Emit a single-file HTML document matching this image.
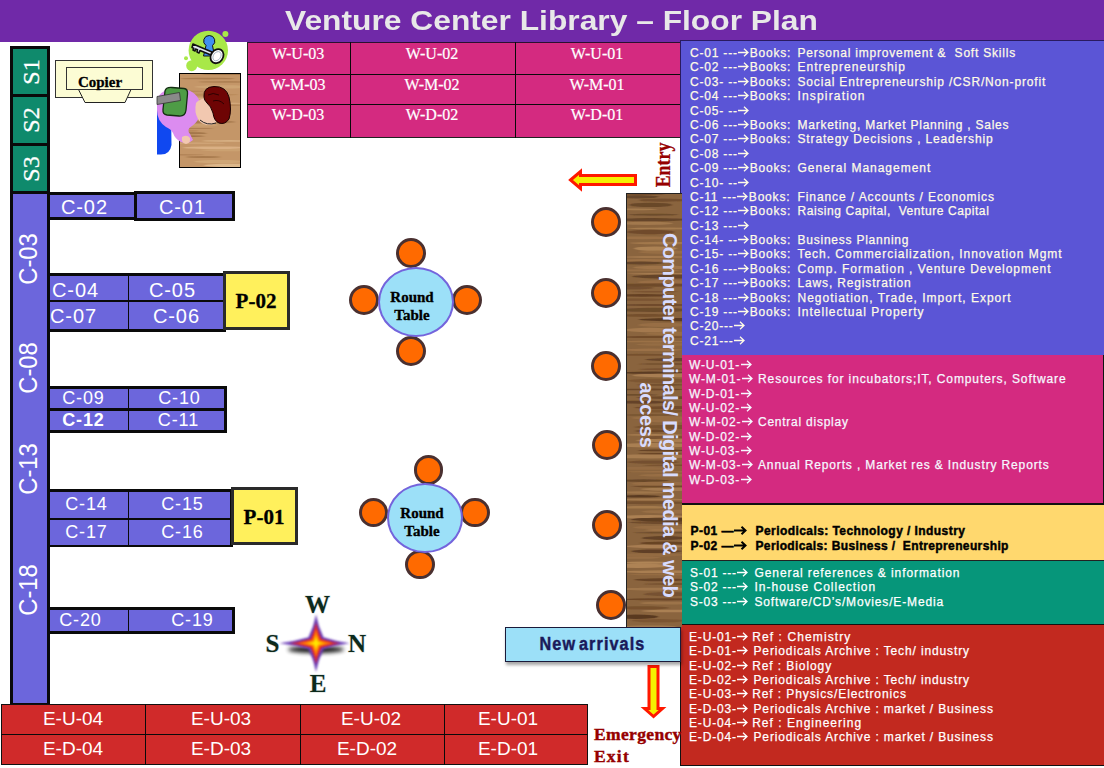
<!DOCTYPE html>
<html><head><meta charset="utf-8"><style>
html,body{margin:0;padding:0;width:1104px;height:768px;overflow:hidden;background:#fff;position:relative;font-family:"Liberation Sans",sans-serif}
.a{position:absolute;box-sizing:border-box}
.t{position:absolute;white-space:pre;line-height:1}
.blk{background:#0a0a0a}
.cb{background:#6c66dc}
.sg{background:#0f8a6c}
.ctxt{color:#fff;font-size:20px}
.wt{color:#fff;font-family:"Liberation Serif",serif;font-size:16px}
.et{color:#fff;font-size:19px}
.stool{position:absolute;box-sizing:border-box;width:30px;height:30px;border-radius:50%;background:#ff6a00;border:3px solid #4a3030}
.wood{background:repeating-linear-gradient(180deg,#8a6a40 0px,#6f5030 2px,#9a7a4c 4px,#5e4228 6px,#8c6c42 8px)}
.lg{position:absolute;left:690px;white-space:pre;font-size:12px;line-height:14.4px;-webkit-text-stroke:0.25px currentColor}
.ar{vertical-align:0;margin-left:0.5px;margin-right:0.5px}
</style></head><body>
<div class="a" style="left:0px;top:0px;width:1104px;height:42px;background:#7029a8"></div>
<div class="t" style="left:284.8px;top:8.4px;font-size:27px;font-weight:bold;color:#e8e8e8;transform-origin:0 0;transform:scaleX(1.176)">Venture Center Library – Floor Plan</div>
<div class="a" style="left:10px;top:46px;width:40px;height:148px;background:#0a0a0a"></div>
<div class="a" style="left:13px;top:49px;width:34px;height:45px;background:#0f8a6c"></div>
<div class="a" style="left:13px;top:97px;width:34px;height:46px;background:#0f8a6c"></div>
<div class="a" style="left:13px;top:146px;width:34px;height:45px;background:#0f8a6c"></div>
<div class="a" style="left:10px;top:191px;width:40px;height:515px;background:#0a0a0a"></div>
<div class="a" style="left:13px;top:194px;width:34px;height:509px;background:#6c66dc"></div>
<div class="a" style="left:47px;top:192px;width:90px;height:28px;background:#0a0a0a"></div>
<div class="a" style="left:50px;top:195px;width:84px;height:22px;background:#6c66dc"></div>
<div class="a" style="left:134px;top:191px;width:101px;height:30px;background:#0a0a0a"></div>
<div class="a" style="left:137px;top:194px;width:95px;height:24px;background:#6c66dc"></div>
<div class="a" style="left:47px;top:273px;width:179px;height:59px;background:#0a0a0a"></div>
<div class="a" style="left:50px;top:276px;width:173px;height:24px;background:#6c66dc"></div>
<div class="a" style="left:50px;top:302px;width:173px;height:27px;background:#6c66dc"></div>
<div class="a" style="left:128px;top:276px;width:1px;height:53px;background:#0a0a0a"></div>
<div class="a" style="left:47px;top:386px;width:180px;height:47px;background:#0a0a0a"></div>
<div class="a" style="left:50px;top:389px;width:174px;height:19px;background:#6c66dc"></div>
<div class="a" style="left:50px;top:411px;width:174px;height:19px;background:#6c66dc"></div>
<div class="a" style="left:128px;top:389px;width:1px;height:41px;background:#0a0a0a"></div>
<div class="a" style="left:47px;top:489px;width:186px;height:58px;background:#0a0a0a"></div>
<div class="a" style="left:50px;top:492px;width:180px;height:26px;background:#6c66dc"></div>
<div class="a" style="left:50px;top:520px;width:180px;height:25px;background:#6c66dc"></div>
<div class="a" style="left:128px;top:492px;width:1px;height:53px;background:#0a0a0a"></div>
<div class="a" style="left:47px;top:607px;width:188px;height:27px;background:#0a0a0a"></div>
<div class="a" style="left:50px;top:610px;width:182px;height:21px;background:#6c66dc"></div>
<div class="a" style="left:128px;top:610px;width:1px;height:21px;background:#0a0a0a"></div>
<div class="a" style="left:223px;top:271px;width:67px;height:59px;background:#fff05c;border:3px solid #2a2a2a"></div>
<div class="a" style="left:231px;top:487px;width:67px;height:58px;background:#fff05c;border:3px solid #2a2a2a"></div>
<div class="a" style="left:247px;top:42px;width:434px;height:96px;background:#d42a80;border-left:1px solid #222;border-bottom:1px solid #222;border-top:1px solid #2a1030"></div>
<div class="a" style="left:247px;top:74px;width:434px;height:1px;background:#0a0a0a"></div>
<div class="a" style="left:247px;top:104px;width:434px;height:1px;background:#0a0a0a"></div>
<div class="a" style="left:350px;top:42px;width:1px;height:96px;background:#0a0a0a"></div>
<div class="a" style="left:515px;top:42px;width:1px;height:96px;background:#0a0a0a"></div>
<div class="a" style="left:1px;top:704px;width:587px;height:61px;background:#d02a2a;border:1px solid #111"></div>
<div class="a" style="left:1px;top:734px;width:587px;height:1px;background:#0a0a0a"></div>
<div class="a" style="left:145px;top:704px;width:1px;height:61px;background:#0a0a0a"></div>
<div class="a" style="left:300px;top:704px;width:1px;height:61px;background:#0a0a0a"></div>
<div class="a" style="left:444px;top:704px;width:1px;height:61px;background:#0a0a0a"></div>
<div class="a" style="left:680px;top:40px;width:424px;height:316px;background:#5b55d6;border-top:1px solid #2a1a60;border-left:1px solid #2a1a60;border-bottom:1px solid #2a1a60"></div>
<div class="a" style="left:682px;top:355px;width:422px;height:150px;background:#d42a80;border-bottom:2px solid #111;border-right:1px solid #111"></div>
<div class="a" style="left:680px;top:505px;width:424px;height:56px;background:#ffd86e;border-bottom:1px solid #222"></div>
<div class="a" style="left:680px;top:561px;width:424px;height:64px;background:#06967a;border-bottom:1px solid #111"></div>
<div class="a" style="left:680px;top:625px;width:424px;height:141px;background:#c2291f;border-bottom:1px solid #111;border-left:1px solid #111"></div>
<svg class="a" style="left:626px;top:193px" width="56" height="434" viewBox="626 193 56 434"><defs><filter id="wb" x="-10%" y="-50%" width="120%" height="200%"><feGaussianBlur stdDeviation="1.2 0.7"/></filter><clipPath id="wc"><rect x="627" y="194" width="55" height="433"/></clipPath></defs><rect x="626" y="193" width="56" height="434" fill="#222"/><rect x="627" y="194" width="55" height="433" fill="#8a643e"/><g clip-path="url(#wc)"><g filter="url(#wb)"><ellipse cx="643.0" cy="194.0" rx="21.2" ry="1.2" fill="#6c4626" opacity="0.78"/><ellipse cx="636.7" cy="196.8" rx="22.1" ry="1.6" fill="#4e301a" opacity="0.62"/><ellipse cx="662.2" cy="200.2" rx="23.1" ry="1.6" fill="#5e3a1e" opacity="0.54"/><ellipse cx="650.7" cy="204.9" rx="21.2" ry="2.2" fill="#4e301a" opacity="0.54"/><ellipse cx="634.7" cy="209.3" rx="22.9" ry="0.9" fill="#b88c5c" opacity="0.57"/><ellipse cx="653.5" cy="214.7" rx="24.7" ry="1.0" fill="#4e301a" opacity="0.49"/><ellipse cx="651.2" cy="219.7" rx="37.0" ry="1.6" fill="#4e301a" opacity="0.62"/><ellipse cx="646.7" cy="223.3" rx="26.2" ry="1.6" fill="#b88c5c" opacity="0.52"/><ellipse cx="668.9" cy="228.5" rx="41.9" ry="0.9" fill="#b08454" opacity="0.74"/><ellipse cx="650.6" cy="232.0" rx="24.1" ry="2.2" fill="#5e3a1e" opacity="0.59"/><ellipse cx="643.1" cy="237.8" rx="34.0" ry="1.4" fill="#a07448" opacity="0.77"/><ellipse cx="664.3" cy="243.1" rx="34.5" ry="1.3" fill="#b08454" opacity="0.63"/><ellipse cx="655.5" cy="248.6" rx="21.6" ry="2.2" fill="#b88c5c" opacity="0.74"/><ellipse cx="666.0" cy="252.2" rx="27.1" ry="1.6" fill="#a07448" opacity="0.60"/><ellipse cx="655.5" cy="257.0" rx="35.3" ry="0.8" fill="#b88c5c" opacity="0.65"/><ellipse cx="645.7" cy="260.3" rx="29.8" ry="1.2" fill="#a07448" opacity="0.80"/><ellipse cx="640.5" cy="263.0" rx="23.4" ry="1.4" fill="#4e301a" opacity="0.62"/><ellipse cx="662.8" cy="267.5" rx="29.5" ry="1.8" fill="#b08454" opacity="0.54"/><ellipse cx="647.5" cy="270.3" rx="32.1" ry="1.0" fill="#a07448" opacity="0.69"/><ellipse cx="662.6" cy="273.7" rx="35.2" ry="0.8" fill="#b88c5c" opacity="0.58"/><ellipse cx="670.7" cy="276.6" rx="38.5" ry="2.0" fill="#4e301a" opacity="0.63"/><ellipse cx="667.7" cy="282.2" rx="29.8" ry="2.2" fill="#a07448" opacity="0.61"/><ellipse cx="658.2" cy="285.0" rx="44.6" ry="1.7" fill="#5e3a1e" opacity="0.63"/><ellipse cx="629.8" cy="287.9" rx="23.8" ry="1.7" fill="#5e3a1e" opacity="0.49"/><ellipse cx="654.3" cy="291.7" rx="23.7" ry="0.8" fill="#6c4626" opacity="0.55"/><ellipse cx="642.8" cy="295.4" rx="32.2" ry="1.3" fill="#5e3a1e" opacity="0.84"/><ellipse cx="638.7" cy="299.6" rx="28.6" ry="1.2" fill="#6c4626" opacity="0.56"/><ellipse cx="658.0" cy="305.0" rx="43.8" ry="1.0" fill="#5e3a1e" opacity="0.59"/><ellipse cx="654.0" cy="309.9" rx="36.1" ry="2.1" fill="#4e301a" opacity="0.49"/><ellipse cx="645.8" cy="315.4" rx="25.6" ry="1.5" fill="#6c4626" opacity="0.67"/><ellipse cx="683.1" cy="319.6" rx="44.6" ry="1.7" fill="#4e301a" opacity="0.79"/><ellipse cx="663.1" cy="324.9" rx="25.0" ry="2.0" fill="#a07448" opacity="0.65"/><ellipse cx="649.7" cy="330.0" rx="24.8" ry="2.2" fill="#b08454" opacity="0.69"/><ellipse cx="689.4" cy="333.7" rx="43.9" ry="2.0" fill="#a07448" opacity="0.60"/><ellipse cx="651.6" cy="337.0" rx="32.1" ry="1.1" fill="#6c4626" opacity="0.84"/><ellipse cx="655.8" cy="341.6" rx="36.1" ry="0.8" fill="#a07448" opacity="0.78"/><ellipse cx="668.0" cy="344.5" rx="32.0" ry="1.3" fill="#a07448" opacity="0.52"/><ellipse cx="651.9" cy="349.8" rx="30.0" ry="1.2" fill="#a07448" opacity="0.83"/><ellipse cx="641.9" cy="354.8" rx="34.8" ry="1.0" fill="#6c4626" opacity="0.64"/><ellipse cx="681.6" cy="359.6" rx="36.4" ry="1.7" fill="#4e301a" opacity="0.59"/><ellipse cx="676.1" cy="364.0" rx="38.2" ry="0.9" fill="#5e3a1e" opacity="0.49"/><ellipse cx="664.3" cy="369.2" rx="25.3" ry="1.0" fill="#6c4626" opacity="0.55"/><ellipse cx="652.6" cy="372.7" rx="33.6" ry="1.1" fill="#4e301a" opacity="0.78"/><ellipse cx="672.9" cy="375.4" rx="40.4" ry="1.9" fill="#b88c5c" opacity="0.66"/><ellipse cx="660.4" cy="380.8" rx="33.1" ry="2.1" fill="#6c4626" opacity="0.46"/><ellipse cx="660.8" cy="384.8" rx="23.7" ry="1.0" fill="#5e3a1e" opacity="0.51"/><ellipse cx="652.0" cy="389.5" rx="33.0" ry="0.9" fill="#5e3a1e" opacity="0.67"/><ellipse cx="633.1" cy="394.8" rx="24.8" ry="0.9" fill="#4e301a" opacity="0.47"/><ellipse cx="679.2" cy="397.6" rx="42.8" ry="1.4" fill="#5e3a1e" opacity="0.63"/><ellipse cx="640.9" cy="402.2" rx="26.9" ry="1.5" fill="#4e301a" opacity="0.65"/><ellipse cx="675.9" cy="407.6" rx="41.9" ry="1.5" fill="#6c4626" opacity="0.83"/><ellipse cx="663.0" cy="411.0" rx="23.4" ry="1.6" fill="#6c4626" opacity="0.50"/><ellipse cx="648.5" cy="415.0" rx="25.3" ry="0.9" fill="#6c4626" opacity="0.57"/><ellipse cx="660.9" cy="417.9" rx="29.2" ry="1.9" fill="#a07448" opacity="0.55"/><ellipse cx="674.1" cy="420.9" rx="30.0" ry="1.5" fill="#a07448" opacity="0.64"/><ellipse cx="679.1" cy="426.9" rx="44.9" ry="2.0" fill="#6c4626" opacity="0.61"/><ellipse cx="655.4" cy="430.9" rx="20.5" ry="1.3" fill="#5e3a1e" opacity="0.67"/><ellipse cx="654.1" cy="434.9" rx="27.4" ry="0.8" fill="#b08454" opacity="0.83"/><ellipse cx="667.5" cy="437.8" rx="22.6" ry="2.1" fill="#6c4626" opacity="0.56"/><ellipse cx="676.7" cy="440.4" rx="40.5" ry="1.9" fill="#b08454" opacity="0.79"/><ellipse cx="655.0" cy="445.3" rx="43.0" ry="2.2" fill="#b88c5c" opacity="0.68"/><ellipse cx="662.6" cy="450.3" rx="24.6" ry="0.9" fill="#5e3a1e" opacity="0.81"/><ellipse cx="660.2" cy="453.7" rx="22.1" ry="0.8" fill="#5e3a1e" opacity="0.79"/><ellipse cx="651.3" cy="456.4" rx="44.9" ry="2.0" fill="#b88c5c" opacity="0.62"/><ellipse cx="653.0" cy="462.1" rx="26.0" ry="1.7" fill="#5e3a1e" opacity="0.49"/><ellipse cx="679.0" cy="465.2" rx="35.7" ry="0.8" fill="#6c4626" opacity="0.66"/><ellipse cx="641.8" cy="468.4" rx="28.7" ry="1.4" fill="#a07448" opacity="0.46"/><ellipse cx="670.7" cy="471.8" rx="44.5" ry="0.8" fill="#a07448" opacity="0.66"/><ellipse cx="669.6" cy="475.2" rx="30.8" ry="1.4" fill="#a07448" opacity="0.65"/><ellipse cx="643.7" cy="480.6" rx="25.4" ry="1.3" fill="#4e301a" opacity="0.54"/><ellipse cx="661.6" cy="483.8" rx="30.1" ry="2.1" fill="#a07448" opacity="0.59"/><ellipse cx="673.0" cy="486.5" rx="42.0" ry="0.9" fill="#5e3a1e" opacity="0.62"/><ellipse cx="677.6" cy="489.2" rx="36.8" ry="1.7" fill="#b88c5c" opacity="0.56"/><ellipse cx="640.1" cy="492.5" rx="26.7" ry="1.2" fill="#b88c5c" opacity="0.45"/><ellipse cx="639.8" cy="496.3" rx="20.9" ry="1.2" fill="#4e301a" opacity="0.80"/><ellipse cx="653.1" cy="499.5" rx="31.9" ry="1.0" fill="#b08454" opacity="0.65"/><ellipse cx="650.1" cy="502.7" rx="40.4" ry="1.5" fill="#5e3a1e" opacity="0.51"/><ellipse cx="644.0" cy="507.3" rx="25.8" ry="1.3" fill="#b08454" opacity="0.68"/><ellipse cx="681.3" cy="511.7" rx="39.6" ry="1.9" fill="#a07448" opacity="0.69"/><ellipse cx="650.1" cy="516.8" rx="38.1" ry="1.8" fill="#b88c5c" opacity="0.71"/><ellipse cx="669.4" cy="519.5" rx="38.3" ry="2.0" fill="#4e301a" opacity="0.77"/><ellipse cx="669.1" cy="522.5" rx="40.3" ry="1.5" fill="#4e301a" opacity="0.46"/><ellipse cx="670.6" cy="527.4" rx="37.3" ry="1.9" fill="#a07448" opacity="0.54"/><ellipse cx="673.8" cy="530.0" rx="29.4" ry="0.9" fill="#b08454" opacity="0.63"/><ellipse cx="665.5" cy="532.7" rx="32.2" ry="0.8" fill="#4e301a" opacity="0.45"/><ellipse cx="664.2" cy="538.0" rx="22.3" ry="1.9" fill="#4e301a" opacity="0.66"/><ellipse cx="665.7" cy="543.1" rx="25.9" ry="1.5" fill="#5e3a1e" opacity="0.75"/><ellipse cx="655.3" cy="546.4" rx="29.6" ry="1.7" fill="#b88c5c" opacity="0.64"/><ellipse cx="656.3" cy="551.3" rx="25.0" ry="1.9" fill="#4e301a" opacity="0.69"/><ellipse cx="652.4" cy="554.9" rx="34.2" ry="1.7" fill="#a07448" opacity="0.45"/><ellipse cx="635.4" cy="557.6" rx="25.4" ry="1.2" fill="#a07448" opacity="0.65"/><ellipse cx="647.6" cy="562.6" rx="23.0" ry="1.2" fill="#b88c5c" opacity="0.81"/><ellipse cx="638.2" cy="565.8" rx="31.5" ry="2.2" fill="#b88c5c" opacity="0.78"/><ellipse cx="664.4" cy="571.7" rx="42.9" ry="1.4" fill="#b08454" opacity="0.82"/><ellipse cx="670.8" cy="574.5" rx="43.8" ry="0.9" fill="#a07448" opacity="0.50"/><ellipse cx="659.9" cy="579.8" rx="25.8" ry="1.5" fill="#5e3a1e" opacity="0.81"/><ellipse cx="681.0" cy="584.0" rx="37.0" ry="0.8" fill="#5e3a1e" opacity="0.61"/><ellipse cx="659.6" cy="589.1" rx="41.0" ry="1.4" fill="#b88c5c" opacity="0.45"/><ellipse cx="668.5" cy="594.2" rx="24.9" ry="2.0" fill="#5e3a1e" opacity="0.45"/><ellipse cx="666.7" cy="599.3" rx="45.0" ry="1.1" fill="#5e3a1e" opacity="0.69"/><ellipse cx="667.2" cy="603.1" rx="27.0" ry="1.4" fill="#b08454" opacity="0.47"/><ellipse cx="642.6" cy="607.9" rx="26.6" ry="1.7" fill="#6c4626" opacity="0.65"/><ellipse cx="681.7" cy="611.0" rx="40.3" ry="1.3" fill="#b88c5c" opacity="0.70"/><ellipse cx="636.2" cy="616.7" rx="22.0" ry="2.2" fill="#4e301a" opacity="0.82"/><ellipse cx="658.9" cy="620.7" rx="27.2" ry="1.7" fill="#6c4626" opacity="0.47"/><ellipse cx="649.6" cy="626.4" rx="27.0" ry="0.9" fill="#b88c5c" opacity="0.55"/></g></g></svg>
<div class="t" style="left:30.5px;top:71.5px;transform:translate(-50%,-50%) rotate(-90deg) scaleX(1.0);font-family:'Liberation Serif',serif;font-size:24px;color:#fff;-webkit-text-stroke:0.3px #fff">S1</div>
<div class="t" style="left:30.5px;top:119.5px;transform:translate(-50%,-50%) rotate(-90deg) scaleX(1.0);font-family:'Liberation Serif',serif;font-size:24px;color:#fff;-webkit-text-stroke:0.3px #fff">S2</div>
<div class="t" style="left:30.5px;top:168.5px;transform:translate(-50%,-50%) rotate(-90deg) scaleX(1.0);font-family:'Liberation Serif',serif;font-size:24px;color:#fff;-webkit-text-stroke:0.3px #fff">S3</div>
<div class="t" style="left:28px;top:259px;transform:translate(-50%,-50%) rotate(-90deg) scaleX(0.95);font-size:25px;color:#fff">C-03</div>
<div class="t" style="left:28px;top:368px;transform:translate(-50%,-50%) rotate(-90deg) scaleX(0.95);font-size:25px;color:#fff">C-08</div>
<div class="t" style="left:28px;top:469px;transform:translate(-50%,-50%) rotate(-90deg) scaleX(0.95);font-size:25px;color:#fff">C-13</div>
<div class="t" style="left:28px;top:590px;transform:translate(-50%,-50%) rotate(-90deg) scaleX(0.95);font-size:25px;color:#fff">C-18</div>
<div class="t" style="left:84px;top:197px;transform:translateX(-50%);color:#fff;font-size:20px;letter-spacing:0.9px;padding-left:0.9px">C-02</div>
<div class="t" style="left:182px;top:197px;transform:translateX(-50%);color:#fff;font-size:20px;letter-spacing:0.9px;padding-left:0.9px">C-01</div>
<div class="t" style="left:52px;top:280px;color:#fff;font-size:20px;letter-spacing:0.9px">C-04</div>
<div class="t" style="left:172px;top:280px;transform:translateX(-50%);color:#fff;font-size:20px;letter-spacing:0.9px;padding-left:0.9px">C-05</div>
<div class="t" style="left:50px;top:306px;color:#fff;font-size:20px;letter-spacing:0.9px">C-07</div>
<div class="t" style="left:176px;top:306px;transform:translateX(-50%);color:#fff;font-size:20px;letter-spacing:0.9px;padding-left:0.9px">C-06</div>
<div class="t" style="left:83px;top:389px;transform:translateX(-50%);color:#fff;font-size:18px;letter-spacing:0.9px;padding-left:0.9px">C-09</div>
<div class="t" style="left:179px;top:389px;transform:translateX(-50%);color:#fff;font-size:18px;letter-spacing:0.9px;padding-left:0.9px">C-10</div>
<div class="t" style="left:83px;top:411px;transform:translateX(-50%);color:#fff;font-size:18px;font-weight:bold;letter-spacing:0.9px;padding-left:0.9px">C-12</div>
<div class="t" style="left:178px;top:411px;transform:translateX(-50%);color:#fff;font-size:18px;letter-spacing:0.9px;padding-left:0.9px">C-11</div>
<div class="t" style="left:86px;top:495px;transform:translateX(-50%);color:#fff;font-size:18px;letter-spacing:0.9px;padding-left:0.9px">C-14</div>
<div class="t" style="left:182px;top:495px;transform:translateX(-50%);color:#fff;font-size:18px;letter-spacing:0.9px;padding-left:0.9px">C-15</div>
<div class="t" style="left:86px;top:523px;transform:translateX(-50%);color:#fff;font-size:18px;letter-spacing:0.9px;padding-left:0.9px">C-17</div>
<div class="t" style="left:182px;top:523px;transform:translateX(-50%);color:#fff;font-size:18px;letter-spacing:0.9px;padding-left:0.9px">C-16</div>
<div class="t" style="left:80px;top:611px;transform:translateX(-50%);color:#fff;font-size:18px;letter-spacing:0.9px;padding-left:0.9px">C-20</div>
<div class="t" style="left:192px;top:611px;transform:translateX(-50%);color:#fff;font-size:18px;letter-spacing:0.9px;padding-left:0.9px">C-19</div>
<div class="t" style="left:256px;top:291px;transform:translateX(-50%);font-family:'Liberation Serif',serif;font-weight:bold;font-size:21px;color:#000;-webkit-text-stroke:0.3px #000">P-02</div>
<div class="t" style="left:264px;top:507px;transform:translateX(-50%);font-family:'Liberation Serif',serif;font-weight:bold;font-size:21px;color:#000;-webkit-text-stroke:0.3px #000">P-01</div>
<div class="t" style="left:298px;top:46px;transform:translateX(-50%);font-family:'Liberation Serif',serif;color:#fff;font-size:16px;-webkit-text-stroke:0.2px #fff">W-U-03</div>
<div class="t" style="left:298px;top:77px;transform:translateX(-50%);font-family:'Liberation Serif',serif;color:#fff;font-size:16px;-webkit-text-stroke:0.2px #fff">W-M-03</div>
<div class="t" style="left:298px;top:107px;transform:translateX(-50%);font-family:'Liberation Serif',serif;color:#fff;font-size:16px;-webkit-text-stroke:0.2px #fff">W-D-03</div>
<div class="t" style="left:432px;top:46px;transform:translateX(-50%);font-family:'Liberation Serif',serif;color:#fff;font-size:16px;-webkit-text-stroke:0.2px #fff">W-U-02</div>
<div class="t" style="left:432px;top:77px;transform:translateX(-50%);font-family:'Liberation Serif',serif;color:#fff;font-size:16px;-webkit-text-stroke:0.2px #fff">W-M-02</div>
<div class="t" style="left:432px;top:107px;transform:translateX(-50%);font-family:'Liberation Serif',serif;color:#fff;font-size:16px;-webkit-text-stroke:0.2px #fff">W-D-02</div>
<div class="t" style="left:597px;top:46px;transform:translateX(-50%);font-family:'Liberation Serif',serif;color:#fff;font-size:16px;-webkit-text-stroke:0.2px #fff">W-U-01</div>
<div class="t" style="left:597px;top:77px;transform:translateX(-50%);font-family:'Liberation Serif',serif;color:#fff;font-size:16px;-webkit-text-stroke:0.2px #fff">W-M-01</div>
<div class="t" style="left:597px;top:107px;transform:translateX(-50%);font-family:'Liberation Serif',serif;color:#fff;font-size:16px;-webkit-text-stroke:0.2px #fff">W-D-01</div>
<div class="t" style="left:73px;top:709px;transform:translateX(-50%);color:#fff;font-size:19px">E-U-04</div>
<div class="t" style="left:73px;top:739.3px;transform:translateX(-50%);color:#fff;font-size:19px">E-D-04</div>
<div class="t" style="left:221px;top:709px;transform:translateX(-50%);color:#fff;font-size:19px">E-U-03</div>
<div class="t" style="left:221px;top:739.3px;transform:translateX(-50%);color:#fff;font-size:19px">E-D-03</div>
<div class="t" style="left:371px;top:709px;transform:translateX(-50%);color:#fff;font-size:19px">E-U-02</div>
<div class="t" style="left:367px;top:739.3px;transform:translateX(-50%);color:#fff;font-size:19px">E-D-02</div>
<div class="t" style="left:508px;top:709px;transform:translateX(-50%);color:#fff;font-size:19px">E-U-01</div>
<div class="t" style="left:508px;top:739.3px;transform:translateX(-50%);color:#fff;font-size:19px">E-D-01</div>
<div class="a" style="left:395.5px;top:238px;width:30px;height:30px;border-radius:50%;background:#ff6a00;border:3px solid #4a3030"></div>
<div class="a" style="left:348.75px;top:285px;width:30px;height:30px;border-radius:50%;background:#ff6a00;border:3px solid #4a3030"></div>
<div class="a" style="left:451.75px;top:285px;width:30px;height:30px;border-radius:50%;background:#ff6a00;border:3px solid #4a3030"></div>
<div class="a" style="left:395.5px;top:336px;width:30px;height:30px;border-radius:50%;background:#ff6a00;border:3px solid #4a3030"></div>
<div class="a" style="left:377.5px;top:266.8px;width:76px;height:70.3px;background:#9ce0f8;border:2.8px solid #7464dc;border-radius:50%"></div>
<div class="a" style="left:414.15px;top:455.4px;width:29.2px;height:29.2px;border-radius:50%;background:#ff6a00;border:3px solid #4a3030"></div>
<div class="a" style="left:359.15px;top:498.15px;width:29.2px;height:29.2px;border-radius:50%;background:#ff6a00;border:3px solid #4a3030"></div>
<div class="a" style="left:460.4px;top:498.15px;width:29.2px;height:29.2px;border-radius:50%;background:#ff6a00;border:3px solid #4a3030"></div>
<div class="a" style="left:405.4px;top:549.9px;width:29.2px;height:29.2px;border-radius:50%;background:#ff6a00;border:3px solid #4a3030"></div>
<div class="a" style="left:386.8px;top:482.8px;width:75.8px;height:70.3px;background:#9ce0f8;border:2.8px solid #7464dc;border-radius:50%"></div>
<div class="t" style="left:412px;top:290px;transform:translateX(-50%);font-family:'Liberation Serif',serif;font-weight:bold;font-size:15px;color:#000;-webkit-text-stroke:0.35px #000">Round</div>
<div class="t" style="left:412px;top:308px;transform:translateX(-50%);font-family:'Liberation Serif',serif;font-weight:bold;font-size:15px;color:#000;-webkit-text-stroke:0.35px #000">Table</div>
<div class="t" style="left:422px;top:506px;transform:translateX(-50%);font-family:'Liberation Serif',serif;font-weight:bold;font-size:15px;color:#000;-webkit-text-stroke:0.35px #000">Round</div>
<div class="t" style="left:422px;top:524px;transform:translateX(-50%);font-family:'Liberation Serif',serif;font-weight:bold;font-size:15px;color:#000;-webkit-text-stroke:0.35px #000">Table</div>
<div class="a" style="left:591.4px;top:206.5px;width:30px;height:30px;border-radius:50%;background:#ff6a00;border:3px solid #4a3030"></div>
<div class="a" style="left:591.4px;top:278.2px;width:30px;height:30px;border-radius:50%;background:#ff6a00;border:3px solid #4a3030"></div>
<div class="a" style="left:591.4px;top:350.7px;width:30px;height:30px;border-radius:50%;background:#ff6a00;border:3px solid #4a3030"></div>
<div class="a" style="left:591.6px;top:430px;width:30px;height:30px;border-radius:50%;background:#ff6a00;border:3px solid #4a3030"></div>
<div class="a" style="left:591.6px;top:509.9px;width:30px;height:30px;border-radius:50%;background:#ff6a00;border:3px solid #4a3030"></div>
<div class="a" style="left:595.6px;top:590.2px;width:30px;height:30px;border-radius:50%;background:#ff6a00;border:3px solid #4a3030"></div>
<div class="t" style="left:669.5px;top:415px;transform:translate(-50%,-50%) rotate(90deg);font-size:20px;font-weight:bold;color:#d8dcff;letter-spacing:-0.64px">Computer terminals/ Digital media &amp; web</div>
<div class="t" style="left:647px;top:415px;transform:translate(-50%,-50%) rotate(90deg);font-size:20px;font-weight:bold;color:#d8dcff;letter-spacing:-0.3px">access</div>
<svg class="a" style="left:566px;top:167px" width="74" height="26" viewBox="566 167 74 26"><path d="M570.5 180 L580.5 171.5 L580.5 175.5 L635.5 175.5 L635.5 184.5 L580.5 184.5 L580.5 188.5 Z" fill="#f5f000" stroke="#ff1800" stroke-width="3" stroke-linejoin="miter"/></svg>
<div class="t" style="left:663px;top:165px;transform:translate(-50%,-50%) rotate(-90deg) scaleX(0.85);font-family:'Liberation Serif',serif;font-weight:bold;font-size:21px;color:#960000;-webkit-text-stroke:0.3px #960000">Entry</div>
<svg class="a" style="left:638px;top:662px" width="32" height="60" viewBox="638 662 32 60"><path d="M653.5 716.5 L644.5 708.5 L649 708.5 L649 666.5 L658 666.5 L658 708.5 L662.5 708.5 Z" fill="#f5f000" stroke="#ff1800" stroke-width="3" stroke-linejoin="miter"/></svg>
<div class="t" style="left:594px;top:726.3px;font-family:'Liberation Serif',serif;font-weight:bold;font-size:17.5px;color:#960000;letter-spacing:0.35px;-webkit-text-stroke:0.4px #960000">Emergency</div>
<div class="t" style="left:594px;top:748px;font-family:'Liberation Serif',serif;font-weight:bold;font-size:17.5px;color:#960000;letter-spacing:1.2px;-webkit-text-stroke:0.4px #960000">Exit</div>
<div class="a" style="left:505px;top:627px;width:176px;height:35px;background:#9ce0f8;border:1px solid #1a1a3a;box-shadow:1px 3px 3px rgba(0,0,0,0.35)"></div>
<div class="t" style="left:592px;top:635px;transform:translateX(-50%) scaleX(0.9);font-weight:bold;font-size:18px;color:#1a1a5a;letter-spacing:1.2px;word-spacing:-3px;padding-left:1px;-webkit-text-stroke:0.45px #1a1a5a">New arrivals</div>
<div class="a" style="left:55px;top:60px;width:98px;height:38px;background:#fcfcd4;border:1px solid #333"></div>
<div class="a" style="left:66px;top:67px;width:77px;height:23px;background:#fcfcd4;border:1px solid #333"></div>
<svg class="a" style="left:76px;top:88px" width="58" height="16" viewBox="76 88 58 16"><path d="M78.5 89.5 L85 102.5 L125 102.5 L131 89.5" fill="#fcfcd4" stroke="#222" stroke-width="1"/></svg>
<div class="a" style="left:66px;top:89px;width:77px;height:1px;background:#333"></div>
<div class="t" style="left:100px;top:75px;transform:translateX(-50%);font-family:'Liberation Serif',serif;font-weight:bold;font-size:15px;color:#000;-webkit-text-stroke:0.3px #000">Copier</div>
<svg class="a" style="left:150px;top:25px" width="95" height="148" viewBox="150 25 95 148">
<defs><filter id="db" x="-10%" y="-50%" width="120%" height="200%"><feGaussianBlur stdDeviation="1.0 0.6"/></filter><clipPath id="dc"><rect x="180" y="74" width="60" height="93"/></clipPath></defs>
<rect x="179.5" y="73.5" width="61" height="94" fill="#c49668" stroke="#000" stroke-width="1"/>
<g clip-path="url(#dc)"><g filter="url(#db)"><ellipse cx="231.8" cy="74.0" rx="30.6" ry="1.1" fill="#9a6c40" opacity="0.68"/><ellipse cx="207.4" cy="78.6" rx="27.3" ry="0.8" fill="#9a6c40" opacity="0.57"/><ellipse cx="227.4" cy="81.9" rx="28.9" ry="0.8" fill="#9a6c40" opacity="0.52"/><ellipse cx="222.6" cy="86.9" rx="28.0" ry="1.7" fill="#d0a878" opacity="0.75"/><ellipse cx="184.3" cy="91.3" rx="19.8" ry="0.7" fill="#a87a4c" opacity="0.51"/><ellipse cx="210.4" cy="94.7" rx="27.8" ry="1.1" fill="#b58656" opacity="0.70"/><ellipse cx="202.4" cy="98.7" rx="26.0" ry="1.1" fill="#dcb488" opacity="0.87"/><ellipse cx="197.8" cy="101.0" rx="15.6" ry="0.9" fill="#b58656" opacity="0.73"/><ellipse cx="209.4" cy="103.3" rx="34.2" ry="0.7" fill="#dcb488" opacity="0.84"/><ellipse cx="214.5" cy="105.3" rx="34.6" ry="0.8" fill="#a87a4c" opacity="0.66"/><ellipse cx="185.6" cy="107.5" rx="16.7" ry="1.3" fill="#d0a878" opacity="0.63"/><ellipse cx="190.5" cy="112.4" rx="29.1" ry="1.5" fill="#a87a4c" opacity="0.50"/><ellipse cx="208.7" cy="115.8" rx="23.9" ry="1.2" fill="#d0a878" opacity="0.58"/><ellipse cx="198.0" cy="120.0" rx="22.9" ry="0.8" fill="#d0a878" opacity="0.90"/><ellipse cx="203.4" cy="122.0" rx="32.7" ry="1.6" fill="#9a6c40" opacity="0.58"/><ellipse cx="201.6" cy="125.2" rx="15.8" ry="1.6" fill="#d0a878" opacity="0.56"/><ellipse cx="193.0" cy="128.5" rx="20.9" ry="0.6" fill="#9a6c40" opacity="0.53"/><ellipse cx="177.2" cy="130.8" rx="22.4" ry="1.3" fill="#b58656" opacity="0.75"/><ellipse cx="184.2" cy="133.2" rx="22.7" ry="1.3" fill="#9a6c40" opacity="0.75"/><ellipse cx="186.5" cy="136.1" rx="18.8" ry="0.9" fill="#9a6c40" opacity="0.80"/><ellipse cx="229.6" cy="140.9" rx="27.1" ry="0.8" fill="#e0bc90" opacity="0.67"/><ellipse cx="196.2" cy="143.2" rx="29.1" ry="0.6" fill="#dcb488" opacity="0.60"/><ellipse cx="216.2" cy="147.7" rx="33.6" ry="1.3" fill="#dcb488" opacity="0.89"/><ellipse cx="228.2" cy="150.1" rx="27.3" ry="1.2" fill="#d0a878" opacity="0.61"/><ellipse cx="181.0" cy="154.8" rx="23.2" ry="0.8" fill="#a87a4c" opacity="0.60"/><ellipse cx="203.1" cy="157.0" rx="17.6" ry="0.9" fill="#9a6c40" opacity="0.64"/><ellipse cx="219.7" cy="161.6" rx="25.4" ry="1.7" fill="#d0a878" opacity="0.88"/><ellipse cx="233.1" cy="165.4" rx="29.0" ry="1.7" fill="#e0bc90" opacity="0.89"/></g></g>
<path d="M157 110 L171 110 L171.5 145 Q170 155 160 154.5 L157 154.5 Z" fill="#1048f0"/>
<path d="M157 104 Q157 89 176 88.5 Q196 88 200 103 Q203 118 192 126 Q186 129 190 134 L193 140 Q188 145 181 142 Q175 139 173 133 Q171 129 166 127 Q157 121 157 110 Z" fill="#dc8cf0"/>
<path d="M196 103 Q201 97 209 99 L219 113 Q219 124 210 125 Q201 125 198 119 Q194 112 196 103 Z" fill="#f2c8b0"/>
<path d="M200 120 Q207 126 216 123" stroke="#222" stroke-width="1" fill="none"/>
<path d="M182 137 Q187 134 190 138 Q191 143 186 144 Q181 143 182 137 Z" fill="#f2c8b0"/>
<path d="M204 97 Q203 87 214 86.5 Q226 86 229 97 Q232 110 229 119 Q225 125 219 123 Q214 121 213 113 Q211 106 207 103 Q204 100 204 97 Z" fill="#6e0404" stroke="#1a0000" stroke-width="1"/>
<path d="M208 95 Q213 92 219 95 M213 101 Q219 99 224 104" stroke="#1a0000" stroke-width="0.8" fill="none"/>
<path d="M165 91 Q166 87 172 87.5 L184 88.5 Q188 89 187.5 94 L186 110 Q185.5 116.5 179 116 L167 115 Q162.5 114.5 163 109.5 Z" fill="#4e9c46" stroke="#142e12" stroke-width="1.3"/>
<path d="M157 96.5 L179.5 92.5 L180.5 100.5 L157 104.5 Z" fill="#8a8a8a" stroke="#333" stroke-width="0.8"/>
<circle cx="208.3" cy="50.4" r="19.7" fill="#a8e848"/>
<circle cx="191.7" cy="65.7" r="5.5" fill="#a8e848"/>
<circle cx="225.4" cy="34" r="3" fill="#a8e848"/>
<circle cx="186" cy="58.3" r="2" fill="#a8e848"/>
<path d="M209.3 35.5 A5.5 5.5 0 0 1 212.5 45.5 L214.5 56 L203.5 56 L206 45.5 A5.5 5.5 0 0 1 209.3 35.5 Z" fill="#4090f0" stroke="#111" stroke-width="1"/>
<path d="M193 44 L212 52 L211 55 L200 50.5 L199 53 L197 52 L197.5 49.8 L195.5 49 L195 51 L193 50 L193.8 48.2 L192 47.5 Z" fill="#dfe8f4" stroke="#111" stroke-width="1.6" stroke-linejoin="round"/>
<ellipse cx="217" cy="56.2" rx="6" ry="7.5" transform="rotate(35 217 56.2)" fill="#fff" stroke="#111" stroke-width="1.8"/>
<ellipse cx="217" cy="56.2" rx="3.6" ry="5" transform="rotate(35 217 56.2)" fill="none" stroke="#9ab" stroke-width="0.8"/>
</svg>
<svg class="a" style="left:255px;top:585px" width="120" height="115" viewBox="255 585 120 115">
<defs><filter id="bl" x="-20%" y="-20%" width="140%" height="140%"><feGaussianBlur stdDeviation="0.9"/></filter>
<filter id="bl2" x="-30%" y="-100%" width="160%" height="300%"><feGaussianBlur stdDeviation="2.2"/></filter></defs>
<ellipse cx="316" cy="649.5" rx="28" ry="3.6" fill="#000" opacity="0.9" filter="url(#bl2)"/>
<path d="M316.00 614.50 Q318.06 625.85 323.50 637.20 Q336.50 641.55 349.50 643.20 Q336.50 644.85 323.50 649.20 Q318.06 660.60 316.00 672.00 Q313.94 660.60 308.50 649.20 Q293.95 644.85 279.40 643.20 Q293.95 641.55 308.50 637.20 Q313.94 625.85 316.00 614.50 Z" fill="#6c40b8" filter="url(#bl)"/>
<path d="M316.00 622.54 Q317.49 630.71 321.40 638.88 Q330.76 642.01 340.12 643.20 Q330.76 644.39 321.40 647.52 Q317.49 655.73 316.00 663.94 Q314.52 655.73 310.60 647.52 Q300.12 644.39 289.65 643.20 Q300.12 642.01 310.60 638.88 Q314.52 630.71 316.00 622.54 Z" fill="#e02030" filter="url(#bl)"/>
<path d="M316.00 628.85 Q317.03 634.53 319.75 640.20 Q326.25 642.38 332.75 643.20 Q326.25 644.03 319.75 646.20 Q317.03 651.90 316.00 657.60 Q314.97 651.90 312.25 646.20 Q304.98 644.03 297.70 643.20 Q304.98 642.38 312.25 640.20 Q314.97 634.53 316.00 628.85 Z" fill="#ff8800" filter="url(#bl)"/>
<path d="M316.00 635.74 Q316.54 638.69 317.95 641.64 Q321.33 642.77 324.71 643.20 Q321.33 643.63 317.95 644.76 Q316.54 647.72 316.00 650.69 Q315.46 647.72 314.05 644.76 Q310.27 643.63 306.48 643.20 Q310.27 642.77 314.05 641.64 Q315.46 638.69 316.00 635.74 Z" fill="#ffe800" filter="url(#bl)"/>
<g font-family="Liberation Serif" font-weight="bold" fill="#0c2a1c" font-size="25" style="paint-order:stroke" stroke="#d8dcd8" stroke-width="1.2">
<text x="317.5" y="612.6" text-anchor="middle">W</text>
<text x="272.5" y="651.8" text-anchor="middle">S</text>
<text x="357" y="651.8" text-anchor="middle">N</text>
<text x="318" y="691.6" text-anchor="middle">E</text>
</g></svg>
<div class="lg" style="left:690px;top:47.0px;color:#fffbe6;letter-spacing:0.8px;line-height:12px;">C-01 ---<svg class="ar" width="11" height="9" viewBox="0 0 11 9"><path d="M0 4.5H10M6 0.8L10 4.5L6 8.2" fill="none" stroke="currentColor" stroke-width="1.3"/></svg>Books:</div>
<div class="lg" id="b0" style="left:797.5px;top:47.0px;color:#fffbe6;letter-spacing:0.793px;line-height:12px;">Personal improvement &amp;  Soft Skills</div>
<div class="lg" style="left:690px;top:61.39px;color:#fffbe6;letter-spacing:0.8px;line-height:12px;">C-02 ---<svg class="ar" width="11" height="9" viewBox="0 0 11 9"><path d="M0 4.5H10M6 0.8L10 4.5L6 8.2" fill="none" stroke="currentColor" stroke-width="1.3"/></svg>Books:</div>
<div class="lg" id="b1" style="left:797.5px;top:61.39px;color:#fffbe6;letter-spacing:1.029px;line-height:12px;">Entrepreneurship</div>
<div class="lg" style="left:690px;top:75.78px;color:#fffbe6;letter-spacing:0.8px;line-height:12px;">C-03- --<svg class="ar" width="11" height="9" viewBox="0 0 11 9"><path d="M0 4.5H10M6 0.8L10 4.5L6 8.2" fill="none" stroke="currentColor" stroke-width="1.3"/></svg>Books:</div>
<div class="lg" id="b2" style="left:797.5px;top:75.78px;color:#fffbe6;letter-spacing:0.834px;line-height:12px;">Social Entrepreneurship /CSR/Non-profit</div>
<div class="lg" style="left:690px;top:90.17px;color:#fffbe6;letter-spacing:0.8px;line-height:12px;">C-04 ---<svg class="ar" width="11" height="9" viewBox="0 0 11 9"><path d="M0 4.5H10M6 0.8L10 4.5L6 8.2" fill="none" stroke="currentColor" stroke-width="1.3"/></svg>Books:</div>
<div class="lg" id="b3" style="left:797.5px;top:90.17px;color:#fffbe6;letter-spacing:1.162px;line-height:12px;">Inspiration</div>
<div class="lg" style="left:690px;top:104.56px;color:#fffbe6;letter-spacing:0.8px;line-height:12px;">C-05- --<svg class="ar" width="11" height="9" viewBox="0 0 11 9"><path d="M0 4.5H10M6 0.8L10 4.5L6 8.2" fill="none" stroke="currentColor" stroke-width="1.3"/></svg></div>
<div class="lg" style="left:690px;top:118.95px;color:#fffbe6;letter-spacing:0.8px;line-height:12px;">C-06 ---<svg class="ar" width="11" height="9" viewBox="0 0 11 9"><path d="M0 4.5H10M6 0.8L10 4.5L6 8.2" fill="none" stroke="currentColor" stroke-width="1.3"/></svg>Books:</div>
<div class="lg" id="b5" style="left:797.5px;top:118.95px;color:#fffbe6;letter-spacing:0.755px;line-height:12px;">Marketing, Market Planning , Sales</div>
<div class="lg" style="left:690px;top:133.34px;color:#fffbe6;letter-spacing:0.8px;line-height:12px;">C-07 ---<svg class="ar" width="11" height="9" viewBox="0 0 11 9"><path d="M0 4.5H10M6 0.8L10 4.5L6 8.2" fill="none" stroke="currentColor" stroke-width="1.3"/></svg>Books:</div>
<div class="lg" id="b6" style="left:797.5px;top:133.34px;color:#fffbe6;letter-spacing:0.856px;line-height:12px;">Strategy Decisions , Leadership</div>
<div class="lg" style="left:690px;top:147.73px;color:#fffbe6;letter-spacing:0.8px;line-height:12px;">C-08 ---<svg class="ar" width="11" height="9" viewBox="0 0 11 9"><path d="M0 4.5H10M6 0.8L10 4.5L6 8.2" fill="none" stroke="currentColor" stroke-width="1.3"/></svg></div>
<div class="lg" style="left:690px;top:162.12px;color:#fffbe6;letter-spacing:0.8px;line-height:12px;">C-09 ---<svg class="ar" width="11" height="9" viewBox="0 0 11 9"><path d="M0 4.5H10M6 0.8L10 4.5L6 8.2" fill="none" stroke="currentColor" stroke-width="1.3"/></svg>Books:</div>
<div class="lg" id="b8" style="left:797.5px;top:162.12px;color:#fffbe6;letter-spacing:0.984px;line-height:12px;">General Management</div>
<div class="lg" style="left:690px;top:176.51px;color:#fffbe6;letter-spacing:0.8px;line-height:12px;">C-10- --<svg class="ar" width="11" height="9" viewBox="0 0 11 9"><path d="M0 4.5H10M6 0.8L10 4.5L6 8.2" fill="none" stroke="currentColor" stroke-width="1.3"/></svg></div>
<div class="lg" style="left:690px;top:190.9px;color:#fffbe6;letter-spacing:0.8px;line-height:12px;">C-11 ---<svg class="ar" width="11" height="9" viewBox="0 0 11 9"><path d="M0 4.5H10M6 0.8L10 4.5L6 8.2" fill="none" stroke="currentColor" stroke-width="1.3"/></svg>Books:</div>
<div class="lg" id="b10" style="left:797.5px;top:190.9px;color:#fffbe6;letter-spacing:0.911px;line-height:12px;">Finance / Accounts / Economics</div>
<div class="lg" style="left:690px;top:205.29px;color:#fffbe6;letter-spacing:0.8px;line-height:12px;">C-12 ---<svg class="ar" width="11" height="9" viewBox="0 0 11 9"><path d="M0 4.5H10M6 0.8L10 4.5L6 8.2" fill="none" stroke="currentColor" stroke-width="1.3"/></svg>Books:</div>
<div class="lg" id="b11" style="left:797.5px;top:205.29px;color:#fffbe6;letter-spacing:0.579px;line-height:12px;">Raising Capital,  Venture Capital</div>
<div class="lg" style="left:690px;top:219.68px;color:#fffbe6;letter-spacing:0.8px;line-height:12px;">C-13 ---<svg class="ar" width="11" height="9" viewBox="0 0 11 9"><path d="M0 4.5H10M6 0.8L10 4.5L6 8.2" fill="none" stroke="currentColor" stroke-width="1.3"/></svg></div>
<div class="lg" style="left:690px;top:234.07px;color:#fffbe6;letter-spacing:0.8px;line-height:12px;">C-14- --<svg class="ar" width="11" height="9" viewBox="0 0 11 9"><path d="M0 4.5H10M6 0.8L10 4.5L6 8.2" fill="none" stroke="currentColor" stroke-width="1.3"/></svg>Books:</div>
<div class="lg" id="b13" style="left:797.5px;top:234.07px;color:#fffbe6;letter-spacing:0.766px;line-height:12px;">Business Planning</div>
<div class="lg" style="left:690px;top:248.46px;color:#fffbe6;letter-spacing:0.8px;line-height:12px;">C-15- --<svg class="ar" width="11" height="9" viewBox="0 0 11 9"><path d="M0 4.5H10M6 0.8L10 4.5L6 8.2" fill="none" stroke="currentColor" stroke-width="1.3"/></svg>Books:</div>
<div class="lg" id="b14" style="left:797.5px;top:248.46px;color:#fffbe6;letter-spacing:0.975px;line-height:12px;">Tech. Commercialization, Innovation Mgmt</div>
<div class="lg" style="left:690px;top:262.85px;color:#fffbe6;letter-spacing:0.8px;line-height:12px;">C-16 ---<svg class="ar" width="11" height="9" viewBox="0 0 11 9"><path d="M0 4.5H10M6 0.8L10 4.5L6 8.2" fill="none" stroke="currentColor" stroke-width="1.3"/></svg>Books:</div>
<div class="lg" id="b15" style="left:797.5px;top:262.85px;color:#fffbe6;letter-spacing:0.972px;line-height:12px;">Comp. Formation , Venture Development</div>
<div class="lg" style="left:690px;top:277.24px;color:#fffbe6;letter-spacing:0.8px;line-height:12px;">C-17 ---<svg class="ar" width="11" height="9" viewBox="0 0 11 9"><path d="M0 4.5H10M6 0.8L10 4.5L6 8.2" fill="none" stroke="currentColor" stroke-width="1.3"/></svg>Books:</div>
<div class="lg" id="b16" style="left:797.5px;top:277.24px;color:#fffbe6;letter-spacing:0.846px;line-height:12px;">Laws, Registration</div>
<div class="lg" style="left:690px;top:291.63px;color:#fffbe6;letter-spacing:0.8px;line-height:12px;">C-18 ---<svg class="ar" width="11" height="9" viewBox="0 0 11 9"><path d="M0 4.5H10M6 0.8L10 4.5L6 8.2" fill="none" stroke="currentColor" stroke-width="1.3"/></svg>Books:</div>
<div class="lg" id="b17" style="left:797.5px;top:291.63px;color:#fffbe6;letter-spacing:1.0px;line-height:12px;">Negotiation, Trade, Import, Export</div>
<div class="lg" style="left:690px;top:306.02px;color:#fffbe6;letter-spacing:0.8px;line-height:12px;">C-19 ---<svg class="ar" width="11" height="9" viewBox="0 0 11 9"><path d="M0 4.5H10M6 0.8L10 4.5L6 8.2" fill="none" stroke="currentColor" stroke-width="1.3"/></svg>Books:</div>
<div class="lg" id="b18" style="left:797.5px;top:306.02px;color:#fffbe6;letter-spacing:1.002px;line-height:12px;">Intellectual Property</div>
<div class="lg" style="left:690px;top:320.41px;color:#fffbe6;letter-spacing:0.8px;line-height:12px;">C-20---<svg class="ar" width="11" height="9" viewBox="0 0 11 9"><path d="M0 4.5H10M6 0.8L10 4.5L6 8.2" fill="none" stroke="currentColor" stroke-width="1.3"/></svg></div>
<div class="lg" style="left:690px;top:334.8px;color:#fffbe6;letter-spacing:0.8px;line-height:12px;">C-21---<svg class="ar" width="11" height="9" viewBox="0 0 11 9"><path d="M0 4.5H10M6 0.8L10 4.5L6 8.2" fill="none" stroke="currentColor" stroke-width="1.3"/></svg></div>
<div class="lg" style="left:689px;top:358.8px;color:#f6f8ff;letter-spacing:0.85px;line-height:12px;">W-U-01-<svg class="ar" width="11" height="9" viewBox="0 0 11 9"><path d="M0 4.5H10M6 0.8L10 4.5L6 8.2" fill="none" stroke="currentColor" stroke-width="1.3"/></svg></div>
<div class="lg" style="left:689px;top:373.15px;color:#f6f8ff;letter-spacing:0.85px;line-height:12px;">W-M-01-<svg class="ar" width="11" height="9" viewBox="0 0 11 9"><path d="M0 4.5H10M6 0.8L10 4.5L6 8.2" fill="none" stroke="currentColor" stroke-width="1.3"/></svg></div>
<div class="lg" id="w1" style="left:758px;top:373.15px;color:#f6f8ff;letter-spacing:0.897px;line-height:12px;">Resources for incubators;IT, Computers, Software</div>
<div class="lg" style="left:689px;top:387.5px;color:#f6f8ff;letter-spacing:0.85px;line-height:12px;">W-D-01-<svg class="ar" width="11" height="9" viewBox="0 0 11 9"><path d="M0 4.5H10M6 0.8L10 4.5L6 8.2" fill="none" stroke="currentColor" stroke-width="1.3"/></svg></div>
<div class="lg" style="left:689px;top:401.85px;color:#f6f8ff;letter-spacing:0.85px;line-height:12px;">W-U-02-<svg class="ar" width="11" height="9" viewBox="0 0 11 9"><path d="M0 4.5H10M6 0.8L10 4.5L6 8.2" fill="none" stroke="currentColor" stroke-width="1.3"/></svg></div>
<div class="lg" style="left:689px;top:416.2px;color:#f6f8ff;letter-spacing:0.85px;line-height:12px;">W-M-02-<svg class="ar" width="11" height="9" viewBox="0 0 11 9"><path d="M0 4.5H10M6 0.8L10 4.5L6 8.2" fill="none" stroke="currentColor" stroke-width="1.3"/></svg></div>
<div class="lg" id="w4" style="left:758px;top:416.2px;color:#f6f8ff;letter-spacing:0.752px;line-height:12px;">Central display</div>
<div class="lg" style="left:689px;top:430.55px;color:#f6f8ff;letter-spacing:0.85px;line-height:12px;">W-D-02-<svg class="ar" width="11" height="9" viewBox="0 0 11 9"><path d="M0 4.5H10M6 0.8L10 4.5L6 8.2" fill="none" stroke="currentColor" stroke-width="1.3"/></svg></div>
<div class="lg" style="left:689px;top:444.9px;color:#f6f8ff;letter-spacing:0.85px;line-height:12px;">W-U-03-<svg class="ar" width="11" height="9" viewBox="0 0 11 9"><path d="M0 4.5H10M6 0.8L10 4.5L6 8.2" fill="none" stroke="currentColor" stroke-width="1.3"/></svg></div>
<div class="lg" style="left:689px;top:459.25px;color:#f6f8ff;letter-spacing:0.85px;line-height:12px;">W-M-03-<svg class="ar" width="11" height="9" viewBox="0 0 11 9"><path d="M0 4.5H10M6 0.8L10 4.5L6 8.2" fill="none" stroke="currentColor" stroke-width="1.3"/></svg></div>
<div class="lg" id="w7" style="left:758px;top:459.25px;color:#f6f8ff;letter-spacing:0.858px;line-height:12px;">Annual Reports , Market res &amp; Industry Reports</div>
<div class="lg" style="left:689px;top:473.6px;color:#f6f8ff;letter-spacing:0.85px;line-height:12px;">W-D-03-<svg class="ar" width="11" height="9" viewBox="0 0 11 9"><path d="M0 4.5H10M6 0.8L10 4.5L6 8.2" fill="none" stroke="currentColor" stroke-width="1.3"/></svg></div>
<div class="lg" style="left:690.5px;top:524.8px;color:#000;letter-spacing:0.45px;line-height:12px;font-weight:bold;-webkit-text-stroke:0.45px currentColor;">P-01 —<svg class="ar" width="13" height="9" viewBox="0 0 13 9"><path d="M0 4.5H11.5M7.5 0.8L11.5 4.5L7.5 8.2" fill="none" stroke="currentColor" stroke-width="2"/></svg></div>
<div class="lg" id="y0" style="left:755.5px;top:524.8px;color:#000;letter-spacing:0.432px;line-height:12px;font-weight:bold;-webkit-text-stroke:0.45px currentColor;">Periodicals: Technology / Industry</div>
<div class="lg" style="left:690.5px;top:539.6px;color:#000;letter-spacing:0.45px;line-height:12px;font-weight:bold;-webkit-text-stroke:0.45px currentColor;">P-02 —<svg class="ar" width="13" height="9" viewBox="0 0 13 9"><path d="M0 4.5H11.5M7.5 0.8L11.5 4.5L7.5 8.2" fill="none" stroke="currentColor" stroke-width="2"/></svg></div>
<div class="lg" id="y1" style="left:755.5px;top:539.6px;color:#000;letter-spacing:0.371px;line-height:12px;font-weight:bold;-webkit-text-stroke:0.45px currentColor;">Periodicals: Business /  Entrepreneurship</div>
<div class="lg" style="left:690px;top:566.7px;color:#fff;letter-spacing:0.75px;line-height:12px;">S-01 ---<svg class="ar" width="11" height="9" viewBox="0 0 11 9"><path d="M0 4.5H10M6 0.8L10 4.5L6 8.2" fill="none" stroke="currentColor" stroke-width="1.3"/></svg></div>
<div class="lg" id="g0" style="left:754.5px;top:566.7px;color:#fff;letter-spacing:0.911px;line-height:12px;">General references &amp; information</div>
<div class="lg" style="left:690px;top:581.15px;color:#fff;letter-spacing:0.75px;line-height:12px;">S-02 ---<svg class="ar" width="11" height="9" viewBox="0 0 11 9"><path d="M0 4.5H10M6 0.8L10 4.5L6 8.2" fill="none" stroke="currentColor" stroke-width="1.3"/></svg></div>
<div class="lg" id="g1" style="left:754.5px;top:581.15px;color:#fff;letter-spacing:0.998px;line-height:12px;">In-house Collection</div>
<div class="lg" style="left:690px;top:595.6px;color:#fff;letter-spacing:0.75px;line-height:12px;">S-03 ---<svg class="ar" width="11" height="9" viewBox="0 0 11 9"><path d="M0 4.5H10M6 0.8L10 4.5L6 8.2" fill="none" stroke="currentColor" stroke-width="1.3"/></svg></div>
<div class="lg" id="g2" style="left:754.5px;top:595.6px;color:#fff;letter-spacing:0.843px;line-height:12px;">Software/CD’s/Movies/E-Media</div>
<div class="lg" style="left:689px;top:631.2px;color:#fff;letter-spacing:0.84px;line-height:12px;">E-U-01-<svg class="ar" width="11" height="9" viewBox="0 0 11 9"><path d="M0 4.5H10M6 0.8L10 4.5L6 8.2" fill="none" stroke="currentColor" stroke-width="1.3"/></svg></div>
<div class="lg" id="r0" style="left:752.2px;top:631.2px;color:#fff;letter-spacing:1.102px;line-height:12px;">Ref : Chemistry</div>
<div class="lg" style="left:689px;top:645.49px;color:#fff;letter-spacing:0.84px;line-height:12px;">E-D-01-<svg class="ar" width="11" height="9" viewBox="0 0 11 9"><path d="M0 4.5H10M6 0.8L10 4.5L6 8.2" fill="none" stroke="currentColor" stroke-width="1.3"/></svg></div>
<div class="lg" id="r1" style="left:753.5px;top:645.49px;color:#fff;letter-spacing:0.866px;line-height:12px;">Periodicals Archive : Tech/ industry</div>
<div class="lg" style="left:689px;top:659.78px;color:#fff;letter-spacing:0.84px;line-height:12px;">E-U-02-<svg class="ar" width="11" height="9" viewBox="0 0 11 9"><path d="M0 4.5H10M6 0.8L10 4.5L6 8.2" fill="none" stroke="currentColor" stroke-width="1.3"/></svg></div>
<div class="lg" id="r2" style="left:752.2px;top:659.78px;color:#fff;letter-spacing:0.914px;line-height:12px;">Ref : Biology</div>
<div class="lg" style="left:689px;top:674.07px;color:#fff;letter-spacing:0.84px;line-height:12px;">E-D-02-<svg class="ar" width="11" height="9" viewBox="0 0 11 9"><path d="M0 4.5H10M6 0.8L10 4.5L6 8.2" fill="none" stroke="currentColor" stroke-width="1.3"/></svg></div>
<div class="lg" id="r3" style="left:753.5px;top:674.07px;color:#fff;letter-spacing:0.866px;line-height:12px;">Periodicals Archive : Tech/ industry</div>
<div class="lg" style="left:689px;top:688.36px;color:#fff;letter-spacing:0.84px;line-height:12px;">E-U-03-<svg class="ar" width="11" height="9" viewBox="0 0 11 9"><path d="M0 4.5H10M6 0.8L10 4.5L6 8.2" fill="none" stroke="currentColor" stroke-width="1.3"/></svg></div>
<div class="lg" id="r4" style="left:752.2px;top:688.36px;color:#fff;letter-spacing:0.907px;line-height:12px;">Ref : Physics/Electronics</div>
<div class="lg" style="left:689px;top:702.65px;color:#fff;letter-spacing:0.84px;line-height:12px;">E-D-03-<svg class="ar" width="11" height="9" viewBox="0 0 11 9"><path d="M0 4.5H10M6 0.8L10 4.5L6 8.2" fill="none" stroke="currentColor" stroke-width="1.3"/></svg></div>
<div class="lg" id="r5" style="left:753.5px;top:702.65px;color:#fff;letter-spacing:0.859px;line-height:12px;">Periodicals Archive : market / Business</div>
<div class="lg" style="left:689px;top:716.94px;color:#fff;letter-spacing:0.84px;line-height:12px;">E-U-04-<svg class="ar" width="11" height="9" viewBox="0 0 11 9"><path d="M0 4.5H10M6 0.8L10 4.5L6 8.2" fill="none" stroke="currentColor" stroke-width="1.3"/></svg></div>
<div class="lg" id="r6" style="left:752.2px;top:716.94px;color:#fff;letter-spacing:1.011px;line-height:12px;">Ref : Engineering</div>
<div class="lg" style="left:689px;top:731.23px;color:#fff;letter-spacing:0.84px;line-height:12px;">E-D-04-<svg class="ar" width="11" height="9" viewBox="0 0 11 9"><path d="M0 4.5H10M6 0.8L10 4.5L6 8.2" fill="none" stroke="currentColor" stroke-width="1.3"/></svg></div>
<div class="lg" id="r7" style="left:753.5px;top:731.23px;color:#fff;letter-spacing:0.859px;line-height:12px;">Periodicals Archive : market / Business</div>
</body></html>
